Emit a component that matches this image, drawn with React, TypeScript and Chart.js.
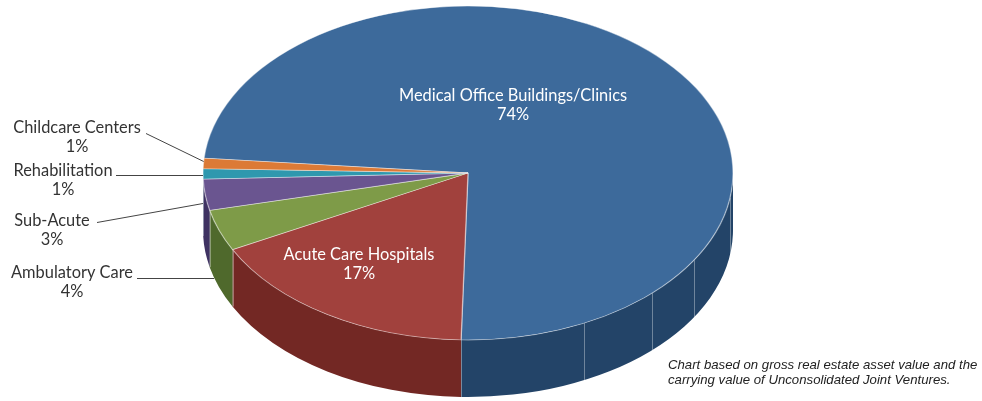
import React, { useEffect, useRef } from "react";
import { Chart, registerables } from "chart.js";

Chart.register(...registerables);

// ---- data ----
const CATEGORIES = [
  "Medical Office Buildings/Clinics",
  "Acute Care Hospitals",
  "Ambulatory Care",
  "Sub-Acute",
  "Rehabilitation",
  "Childcare Centers",
];
const SHARES = [74, 17, 4, 3, 1, 1];
const PCT_LABELS = ["74%", "17%", "4%", "3%", "1%", "1%"];
const TOP_COLORS = ["#3D6A9B", "#A1413D", "#7E9B48", "#6A5590", "#2F98AE", "#DC7A36"];
const SIDE_COLORS = ["#234468", "#732824", "#4F692C", "#3F3262", "#1E6878", "#9E5420"];
const NOTE_LINES = [
  "Chart based on gross real estate asset value and the",
  "carrying value of Unconsolidated Joint Ventures.",
];

// ---- layout (3D projection) ----
const CX = 468;
const CY = 173;
const RX = 265;
const RY = 167;
const DEPTH = 57;
const ROTATION = 275.1;
const WALL_SEAMS_DEG = [64, 46, 31.5, 8.5];

const LABEL_LAYOUT = [
  { x: 513, y: 96, inside: true },
  { x: 359, y: 255, inside: true },
  { x: 72, y: 273, lx: 137, ly: 278, ey: 278 },
  { x: 52, y: 221, lx: 97, ly: 222, ey: 203 },
  { x: 63, y: 171, lx: 116, ly: 175, ey: 175 },
  { x: 77, y: 128, lx: 146, ly: 133, ey: 161 },
];

function silhouetteX(y: number) {
  if (y <= CY) {
    const s = (y - CY) / RY;
    return CX - RX * Math.sqrt(Math.max(0, 1 - s * s));
  }
  if (y <= CY + DEPTH) return CX - RX;
  const s = (y - CY - DEPTH) / RY;
  return CX - RX * Math.sqrt(Math.max(0, 1 - s * s));
}

const TAU = Math.PI * 2;

const pie3d = {
  id: "pie3d",
  beforeDatasetsDraw(chart: any) {
    const ctx: CanvasRenderingContext2D = chart.ctx;
    const arcs = chart.getDatasetMeta(0).data;
    if (!arcs.length) return;
    // side walls
    arcs.forEach((arc: any, i: number) => {
      const start = arc.startAngle;
      const end = arc.endAngle;
      for (let k = -1; k <= 2; k++) {
        const lo = Math.max(start, k * TAU);
        const hi = Math.min(end, k * TAU + Math.PI);
        if (hi > lo) {
          ctx.save();
          ctx.beginPath();
          ctx.ellipse(CX, CY, RX, RY, 0, lo, hi, false);
          ctx.ellipse(CX, CY + DEPTH, RX, RY, 0, hi, lo, true);
          ctx.closePath();
          ctx.fillStyle = SIDE_COLORS[i];
          ctx.fill();
          ctx.restore();
        }
      }
    });
    // seams on walls
    const seamAngles: number[] = arcs.map((a: any) => a.startAngle);
    WALL_SEAMS_DEG.forEach((d) => seamAngles.push((d * Math.PI) / 180));
    ctx.save();
    ctx.strokeStyle = "rgba(255,255,255,0.35)";
    ctx.lineWidth = 1;
    seamAngles.forEach((a) => {
      const n = ((a % TAU) + TAU) % TAU;
      if (n > 0.02 && n < Math.PI - 0.02) {
        const x = Math.round(CX + RX * Math.cos(n)) + 0.5;
        const y = CY + RY * Math.sin(n);
        ctx.beginPath();
        ctx.moveTo(x, y);
        ctx.lineTo(x, y + DEPTH);
        ctx.stroke();
      }
    });
    ctx.restore();
    // squash the top face
    const { x, y, outerRadius } = arcs[0];
    ctx.save();
    ctx.translate(CX, CY);
    ctx.scale(RX / outerRadius, RY / outerRadius);
    ctx.translate(-x, -y);
  },
  afterDatasetsDraw(chart: any) {
    const ctx: CanvasRenderingContext2D = chart.ctx;
    ctx.restore();
    ctx.save();
    ctx.font = '16.4px "Lato"';
    ctx.textAlign = "center";
    ctx.textBaseline = "middle";
    LABEL_LAYOUT.forEach((l: any, i: number) => {
      ctx.fillStyle = l.inside ? "#FFFFFF" : "#333333";
      ctx.fillText(CATEGORIES[i], l.x, l.y);
      ctx.fillText(PCT_LABELS[i], l.x, l.y + 19);
      if (!l.inside) {
        ctx.beginPath();
        ctx.strokeStyle = "#444444";
        ctx.lineWidth = 1;
        ctx.moveTo(l.lx, l.ly + 0.5);
        ctx.lineTo(silhouetteX(l.ey), l.ey + 0.5);
        ctx.stroke();
      }
    });
    ctx.font = 'italic 13.2px "Liberation Sans", Arial, sans-serif';
    ctx.textAlign = "left";
    ctx.fillStyle = "#222222";
    NOTE_LINES.forEach((t, i) => ctx.fillText(t, 668, 365 + i * 15));
    ctx.restore();
  },
};

export default function App() {
  const ref = useRef<HTMLCanvasElement | null>(null);
  useEffect(() => {
    document.body.style.margin = "0";
    const canvas = ref.current;
    if (!canvas) return;
    const chart = new Chart(canvas, {
      type: "pie",
      data: {
        labels: CATEGORIES,
        datasets: [
          {
            data: SHARES,
            backgroundColor: TOP_COLORS,
            borderColor: "rgba(255,255,255,0.45)",
            borderWidth: 1,
            clip: false,
          } as any,
        ],
      },
      options: {
        responsive: false,
        animation: false,
        events: [],
        rotation: ROTATION,
        layout: { padding: 0 },
        plugins: {
          legend: { display: false },
          tooltip: { enabled: false },
        },
      },
      plugins: [pie3d],
    });
    return () => chart.destroy();
  }, []);
  return (
    <div style={{ width: 982, height: 401, background: "#fff" }}>
      <canvas ref={ref} width={982} height={401} style={{ display: "block" }} />
    </div>
  );
}
